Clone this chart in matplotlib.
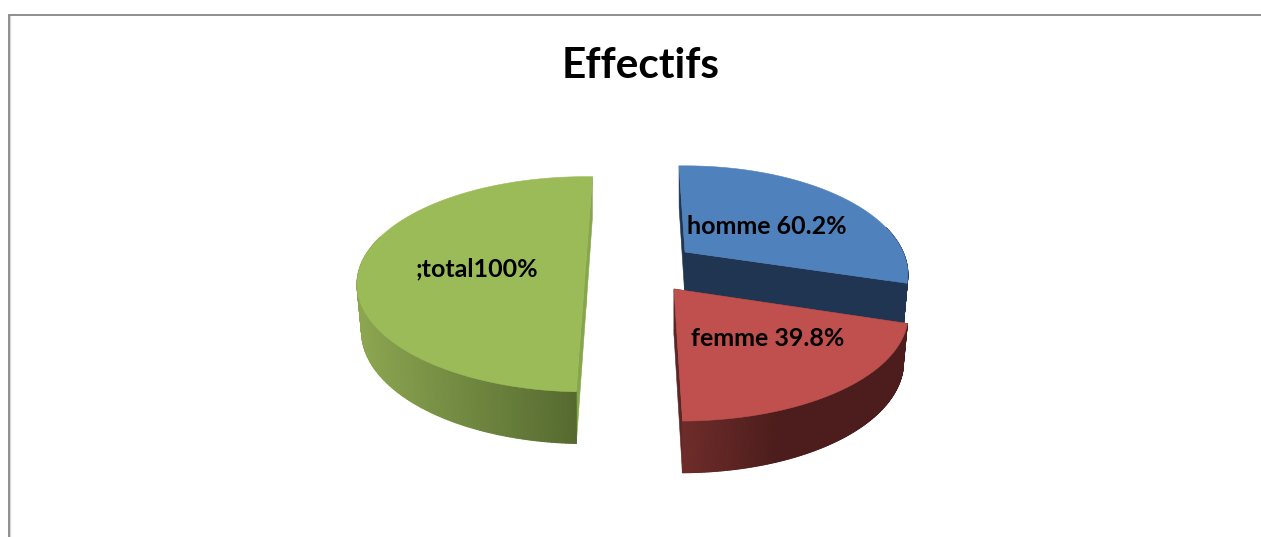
import numpy as np
import matplotlib
matplotlib.use("Agg")
import matplotlib.pyplot as plt
from matplotlib.collections import PolyCollection
from matplotlib.colors import to_rgb

# Chart content
title = "Effectifs"
categories = ["homme", "femme", ";total"]
percent = [60.2, 39.8, 100.0]
labels = ["homme 60.2%", "femme 39.8%", ";total100%"]

# Pie layout, in pixels
PERSPECTIVE = 0.207
apex_x = [685, 674, 586]
apex_y = [252, 289, 262]
radius_x = [218, 228, 224]
radius_y = [104, 104.7, 103]
rotation = [-1.9, -0.4, 2.0]
shear = [0.0, 0.05, 0.0]
label_xy = [(767, 226), (768, 338), (477, 269)]

top_colors = ["#4f81bd", "#c0504d", "#9bbb59"]
cut_colors = ["#1f3551", "#5c2624", "#86a64a"]
rim_near = ["#1f3551", "#6e2c2a", "#566a30"]   # colour where the rim meets the cut face
rim_far = ["#1f3551", "#4c1d1c", "#8ba550"]    # colour further along the rim
rim_extent = [100, 95, 215]                    # horizontal run of the shading

DEPTH = 46
BASE_SCALE = 0.98   # the underside of the disc reads slightly smaller
FONT = ["Lato", "DejaVu Sans"]

fig = plt.figure(figsize=(12.61, 5.37), dpi=100, facecolor="white")
ax = fig.add_axes([0, 0, 1, 1])
ax.set_xlim(0, 1261)
ax.set_ylim(537, 0)
ax.axis("off")

# Chart area border (only the top and left edges are in frame)
ax.plot([9.5, 9.5], [537, 15.5], color="#d8d8d8", lw=1.0, zorder=1)
ax.plot([8.5, 8.5, 1261], [537, 14.5, 14.5], color="#868686", lw=1.3, zorder=2,
        solid_joinstyle="miter")


def project(i, phi, radial=1.0, drop=False):
    """Map an angle (clockwise from the far side) on a tilted disc to the page."""
    x = radial * np.sin(phi)
    y = radial * np.cos(phi)
    w = 1 + PERSPECTIVE * y
    sx = radius_x[i] * x / w
    sy = -radius_y[i] * y / w
    px = sx + shear[i] * sy
    py = apex_y[i] + sy
    if drop:
        px = px * BASE_SCALE
        py = py + DEPTH / np.sqrt(w)
    return apex_x[i] + px, py


total = sum(percent)
spans = [360.0 * p / total for p in percent]
cumulative = np.concatenate([[0.0], np.cumsum(spans)[:-1]])

for i in range(len(percent)):
    start = cumulative[i] + rotation[i]
    end = start + spans[i]
    phi = np.radians(np.linspace(start, end, 241))
    z = 10 + 10 * i

    ax_x, ax_y = project(i, 0.0, radial=0.0)
    bx_x, bx_y = project(i, 0.0, radial=0.0, drop=True)
    tx, ty = project(i, phi)
    dx, dy = project(i, phi, drop=True)

    # Cut faces first, they sit behind the top and the rim
    for k in (0, -1):
        quad = [(ax_x, ax_y), (tx[k], ty[k]), (dx[k], dy[k]), (bx_x, bx_y)]
        ax.add_patch(plt.Polygon(quad, closed=True, fc=cut_colors[i],
                                 ec=cut_colors[i], lw=0.4, zorder=z))

    # Rim, drawn as narrow strips so it can shade across the slice.
    # Only the part of the arc facing the viewer is drawn.
    near_c = np.array(to_rgb(rim_near[i]))
    far_c = np.array(to_rgb(rim_far[i]))
    strips, shades = [], []
    # The shading runs sideways from the slice's edge nearest the viewer
    anchor_x = tx[-1] if i == 1 else tx[0]
    for j in range(len(phi) - 1):
        if np.cos(phi[j]) > 0.25:
            continue
        strips.append([(tx[j], ty[j]), (tx[j + 1], ty[j + 1]),
                       (dx[j + 1], dy[j + 1]), (dx[j], dy[j])])
        frac = min(abs(tx[j] - anchor_x) / rim_extent[i], 1.0)
        shades.append(tuple(near_c + (far_c - near_c) * frac))
    ax.add_collection(PolyCollection(strips, facecolors=shades, edgecolors=shades,
                                     linewidths=0.8, zorder=z + 1))

    # Top face
    outline = [(ax_x, ax_y)] + list(zip(tx, ty))
    ax.add_patch(plt.Polygon(outline, closed=True, fc=top_colors[i],
                             ec=top_colors[i], lw=0.4, zorder=z + 2))

    ax.text(label_xy[i][0], label_xy[i][1], labels[i], family=FONT, weight="bold",
            fontsize=18, color="black", ha="center", va="center", zorder=50)

ax.text(640.5, 66, title, family=FONT, weight="bold", fontsize=30.5,
        color="black", ha="center", va="center", zorder=50)

fig.savefig("out.png", dpi=100, facecolor="white")
